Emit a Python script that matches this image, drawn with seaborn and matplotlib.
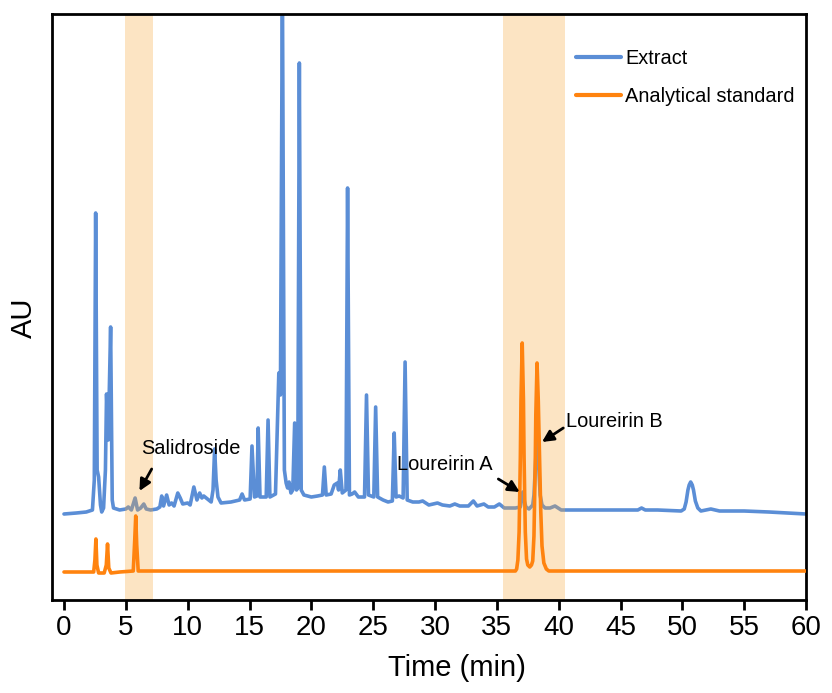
import matplotlib
matplotlib.use("Agg")
import numpy as np
import pandas as pd
import seaborn as sns
import matplotlib.pyplot as plt
from matplotlib import font_manager

# Extract chromatogram: retention time (min) and signal above its own baseline
extract_time = [
    0.0, 1.0, 1.8, 2.3, 2.45, 2.56, 2.68, 2.8, 2.95, 3.05, 3.2, 3.35, 3.44, 3.58,
    3.77, 3.9, 4.0, 4.5, 5.0, 5.2, 5.45, 5.75, 5.95, 6.2, 6.45, 6.65, 7.0, 7.5,
    7.75, 7.9, 8.05, 8.3, 8.5, 8.7, 8.9, 9.2, 9.4, 9.6, 10.0, 10.2, 10.5, 10.75,
    10.97, 11.15, 11.3, 11.6, 11.9, 12.05, 12.18, 12.3, 12.45, 12.7, 13.5, 14.2,
    14.4, 14.6, 15.05, 15.2, 15.4, 15.6, 15.7, 15.85, 16.35, 16.5, 16.65, 17.1,
    17.37, 17.5, 17.66, 17.82, 17.96, 18.08, 18.2, 18.35, 18.5, 18.65, 18.8, 18.9,
    19.03, 19.18, 19.4, 20.0, 20.5, 20.9, 21.05, 21.2, 21.6, 21.85, 22.1, 22.2,
    22.34, 22.5, 22.8, 22.93, 23.08, 23.3, 23.5, 23.8, 24.3, 24.46, 24.62, 25.05,
    25.2, 25.36, 25.8, 26.2, 26.55, 26.7, 26.85, 27.1, 27.42, 27.58, 27.75, 28.2,
    28.7, 29.0, 29.5, 30.2, 30.6, 31.2, 31.6, 32.0, 32.7, 33.1, 33.4, 33.95, 34.3,
    34.8, 35.2, 35.6, 36.5, 36.9, 37.0, 37.1, 37.2, 37.35, 37.6, 37.9, 38.0, 38.1,
    38.17, 38.25, 38.33, 38.4, 38.5, 38.65, 38.9, 39.3, 39.7, 40.2, 42.0, 44.0,
    46.4, 46.7, 47.0, 48.0, 49.9, 50.15, 50.3, 50.45, 50.55, 50.67, 50.8, 50.9,
    51.05, 51.25, 51.5, 52.3, 53.0, 55.0, 57.0, 58.5, 60.0,
]
extract_signal = [
    0, 1, 2, 4, 34, 301, 44, 37, 9, 2, 6, 44, 120, 74,
    187, 14, 6, 4, 5, 7, 4, 16, 4, 6, 10, 5, 4, 5,
    7, 18, 8, 19, 9, 11, 8, 21, 16, 10, 11, 9, 27, 14,
    21, 16, 18, 15, 12, 24, 65, 34, 17, 11, 12, 14,
    20, 14, 15, 68, 17, 18, 86, 17, 17, 94, 17, 20,
    141, 119, 534, 44, 31, 26, 32, 21, 24, 91, 24, 26,
    451, 24, 19, 17, 18, 19, 47, 19, 20, 29, 31, 24,
    44, 21, 24, 326, 19, 20, 22, 17, 17, 119, 19, 17,
    107, 17, 14, 12, 13, 81, 17, 18, 16, 152, 14, 12,
    12, 13, 9, 11, 9, 8, 10, 8, 8, 13, 8, 10, 7,
    7, 10, 6, 6, 7, 14, 22, 14, 7, 5, 9, 19, 44,
    61, 77, 61, 44, 19, 9, 6, 6, 8, 4, 4, 4,
    4, 6, 4, 4, 3, 5, 12, 24, 29, 32, 29, 24,
    13, 6, 3, 5, 3, 3, 2, 1, 0,
]

# Analytical standard chromatogram
standard_time = [
    0.0, 2.4, 2.5, 2.58, 2.66, 2.8, 3.25, 3.42, 3.52, 3.62, 3.8, 4.5, 5.6, 5.72,
    5.8, 5.88, 6.0, 15.0, 25.0, 36.5, 36.6, 36.7, 36.8, 36.9, 36.95, 37.05, 37.15,
    37.2, 37.3, 37.4, 37.5, 37.66, 37.8, 37.9, 38.0, 38.1, 38.15, 38.25, 38.35,
    38.45, 38.55, 38.65, 38.8, 39.0, 39.2, 45.0, 60.0,
]
standard_signal = [
    -1, -1, 11, 32, 6, -2, -2, 6, 27, 3, -2, -1, 0, 31,
    55, 26, 0, 0, 0, 0, 2, 11, 39, 114, 171, 228, 171,
    114, 39, 12, 6, 4, 6, 10, 35, 104, 156, 208, 170,
    115, 60, 25, 8, 2, 0, 0, 0,
]

series_labels = ["Extract", "Analytical standard"]
highlight_windows = [(4.9, 7.2), (35.5, 40.5)]
time_ticks = list(range(0, 61, 5))

extract_offset = 57

sns.set_style("white")
installed = {f.name for f in font_manager.fontManager.ttflist}
if "Liberation Sans Narrow" in installed:
    narrow, tick_size = "Liberation Sans Narrow", 23
elif "DejaVu Sans Condensed" in installed:
    narrow, tick_size = "DejaVu Sans Condensed", 19
else:
    narrow, tick_size = "Liberation Sans", 20
plt.rcParams["font.family"] = ["Liberation Sans", "DejaVu Sans"]
plt.rcParams.update({"text.color": "black", "axes.labelcolor": "black",
                     "xtick.color": "black", "ytick.color": "black"})

blue = "#5B8ED6"
orange = "#FF830F"

fig = plt.figure(figsize=(8.32, 6.93), dpi=100)
ax = fig.add_axes([0.0625, 0.1342, 0.9063, 0.8456])

extract_df = pd.DataFrame({"Time": extract_time,
                           "AU": np.array(extract_signal) + extract_offset})
standard_df = pd.DataFrame({"Time": standard_time, "AU": standard_signal})

sns.lineplot(data=extract_df, x="Time", y="AU", color=blue, lw=2.6,
             estimator=None, sort=False, ax=ax, zorder=1, label=series_labels[0])
for lo, hi in highlight_windows:
    ax.axvspan(lo, hi, color=(248 / 255, 168 / 255, 58 / 255), alpha=0.3,
               lw=0, zorder=2)
sns.lineplot(data=standard_df, x="Time", y="AU", color=orange, lw=2.6,
             estimator=None, sort=False, ax=ax, zorder=3, label=series_labels[1])

ax.set_xlim(-0.97, 60)
ax.set_ylim(-29, 557)
ax.set_xticks(time_ticks)
ax.set_yticks([])
for s in ax.spines.values():
    s.set_visible(True)
    s.set_color("black")
    s.set_linewidth(2)
ax.tick_params(axis="x", direction="out", length=7, width=2, pad=4,
               bottom=True, labelsize=tick_size, labelcolor="black")
for lab in ax.get_xticklabels():
    lab.set_fontfamily([narrow, "DejaVu Sans"])

ax.set_xlabel("Time (min)", fontsize=tick_size + 1, fontfamily=[narrow, "DejaVu Sans"])
ax.set_ylabel("AU", fontsize=tick_size + 1, fontfamily=[narrow, "DejaVu Sans"])
ax.xaxis.set_label_coords(0.537, -0.093)
ax.yaxis.set_label_coords(-0.018, 0.481)

# peak annotations
arrow = dict(arrowstyle="-|>", color="black", lw=2, mutation_scale=17,
             shrinkA=0, shrinkB=0)
ax.text(6.23, 122, "Salidroside", fontsize=14.4, va="center", ha="left")
ax.annotate("", xy=(6.1, 80), xytext=(7.09, 102), arrowprops=arrow)
ax.text(26.93, 106, "Loureirin A", fontsize=14.4, va="center", ha="left")
ax.annotate("", xy=(36.85, 79), xytext=(35.12, 92), arrowprops=arrow)
ax.text(40.59, 149, "Loureirin B", fontsize=14.4, va="center", ha="left")
ax.annotate("", xy=(38.65, 129), xytext=(40.37, 143), arrowprops=arrow)

leg = ax.legend(loc="upper left", bbox_to_anchor=(0.695, 0.94), frameon=False,
                fontsize=14.4, handlelength=2.25, handletextpad=0.2,
                labelspacing=0.95, borderpad=0, borderaxespad=0)
for line in leg.get_lines():
    line.set_linewidth(3)

fig.savefig("out.png", dpi=100)
